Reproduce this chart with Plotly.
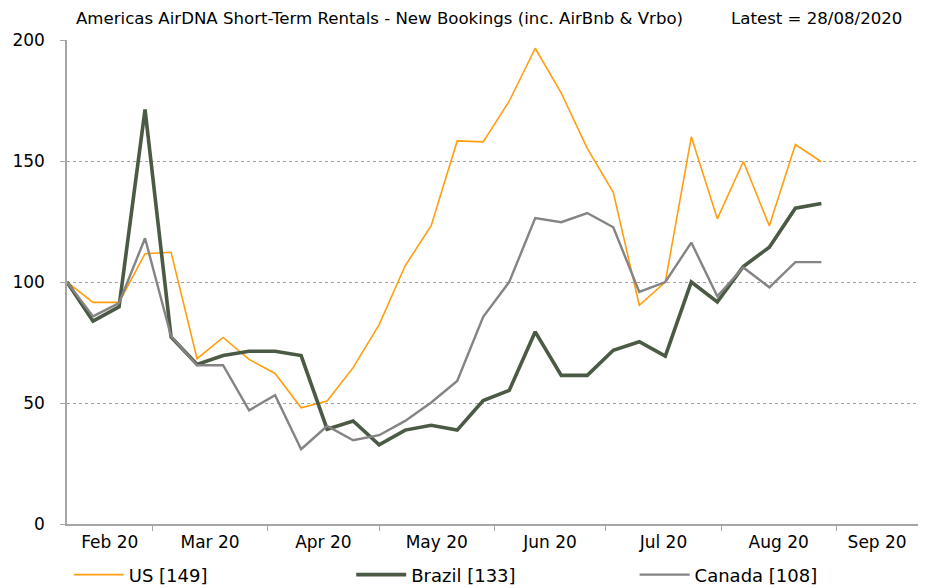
import plotly.graph_objects as go
import pandas as pd

start_date = "2020-02-07"
n_weeks = 30
us = [100, 91.6, 91.6, 111.7, 112.3, 68.3, 77.1, 68.0, 62.2, 48.0,
      50.8, 64.6, 82.4, 106.7, 123.3, 158.3, 157.9, 174.7, 196.6, 178.1,
      155.2, 137.1, 90.4, 100.0, 160.0, 126.1, 149.8, 123.2, 156.8, 149.7]
brazil = [100, 83.8, 89.7, 171.3, 77.3, 65.9, 69.6, 71.4, 71.4, 69.6,
          39.2, 42.6, 32.7, 38.8, 40.8, 38.8, 51.0, 55.2, 79.4, 61.4,
          61.4, 71.8, 75.3, 69.4, 100.0, 91.8, 106.4, 114.4, 130.5, 132.4]
canada = [100, 85.8, 91.3, 118.1, 77.6, 65.6, 65.6, 47.0, 53.2, 30.9,
          40.5, 34.6, 36.7, 42.6, 50.2, 59.1, 85.6, 100.0, 126.4, 124.7,
          128.5, 122.6, 95.9, 100.0, 116.3, 94.1, 106.0, 97.8, 108.2, 108.2]
series_names = ["US [149]", "Brazil [133]", "Canada [108]"]
month_labels = ["Feb 20", "Mar 20", "Apr 20", "May 20", "Jun 20", "Jul 20", "Aug 20", "Sep 20"]
y_ticks = [0, 50, 100, 150, 200]

dates = pd.date_range(start_date, periods=n_weeks, freq="7D")
x_min = pd.Timestamp("2020-02-07")
x_max = pd.Timestamp("2020-09-23")

month_starts = pd.date_range("2020-03-01", "2020-09-01", freq="MS")
bounds = [x_min] + list(month_starts) + [x_max]
label_pos = [bounds[i] + (bounds[i + 1] - bounds[i]) / 2 for i in range(len(bounds) - 1)]

FONT = "DejaVu Sans"
colors = ["#FF9E0F", "#4A5A44", "#848484"]
widths = [1.6, 3.6, 2.4]
legend_ids = ["legend", "legend2", "legend3"]
legend_x = [0.002, 0.334, 0.667]

fig = go.Figure()
for name, vals, c, w, lg in zip(series_names, [us, brazil, canada], colors, widths, legend_ids):
    fig.add_trace(go.Scatter(x=dates, y=vals, mode="lines", name=name, legend=lg,
                             line=dict(color=c, width=w), cliponaxis=False))

leg_common = dict(orientation="h", xanchor="left", y=-0.067, yanchor="top",
                  font=dict(family=FONT, size=18), bgcolor="rgba(0,0,0,0)",
                  itemwidth=50)

fig.update_layout(
    width=939, height=588,
    margin=dict(l=59, r=29, t=32, b=72, autoexpand=False),
    plot_bgcolor="white", paper_bgcolor="white",
    font=dict(family=FONT, size=16, color="#000000"),
    showlegend=True,
    legend=dict(x=legend_x[0], **leg_common),
    legend2=dict(x=legend_x[1], **leg_common),
    legend3=dict(x=legend_x[2], **leg_common),
    xaxis=dict(
        type="date", range=[x_min, x_max],
        tickmode="array", tickvals=label_pos, ticktext=month_labels,
        ticks="", showgrid=False, showline=True, linecolor="#A6A6A6", linewidth=1.5,
        tickfont=dict(family=FONT, size=17), ticklabelstandoff=2,
        minor=dict(tickmode="array", tickvals=list(month_starts), ticks="outside",
                   ticklen=5, tickcolor="#A6A6A6", showgrid=False),
        zeroline=False,
    ),
    yaxis=dict(
        range=[0, 200], tickmode="array", tickvals=y_ticks,
        ticks="outside", ticklen=5, tickcolor="#A6A6A6",
        showline=True, linecolor="#A6A6A6", linewidth=1.5,
        showgrid=True, gridcolor="#A0A0A0", griddash="dot", gridwidth=1,
        zeroline=False, tickfont=dict(family=FONT, size=17), ticklabelstandoff=12,
    ),
    annotations=[
        dict(text="Americas AirDNA Short-Term Rentals - New Bookings (inc. AirBnb & Vrbo)",
             xref="paper", yref="paper", x=0.008, y=1.0, xanchor="left", yanchor="middle",
             yshift=22, showarrow=False, font=dict(family=FONT, size=16.6)),
        dict(text="Latest = 28/08/2020",
             xref="paper", yref="paper", x=0.9835, y=1.0, xanchor="right", yanchor="middle",
             yshift=22, showarrow=False, font=dict(family=FONT, size=16.6)),
    ],
)

fig.write_html("out.html")
